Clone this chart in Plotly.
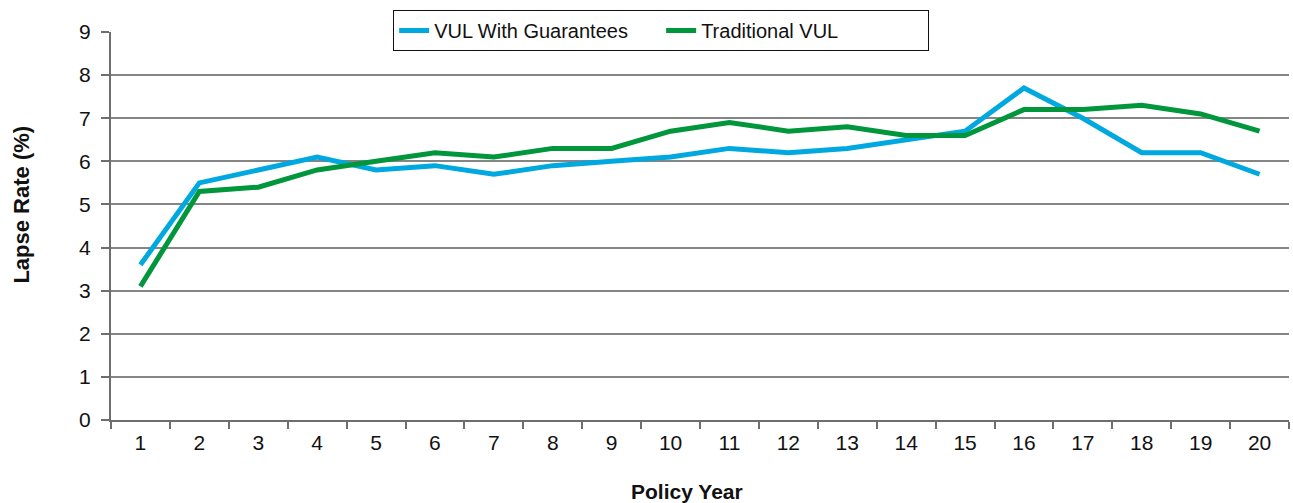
import plotly.graph_objects as go

policy_years = [str(i) for i in range(1, 21)]
vul_with_guarantees = [3.6, 5.5, 5.8, 6.1, 5.8, 5.9, 5.7, 5.9, 6.0, 6.1,
                       6.3, 6.2, 6.3, 6.5, 6.7, 7.7, 7.0, 6.2, 6.2, 5.7]
traditional_vul = [3.1, 5.3, 5.4, 5.8, 6.0, 6.2, 6.1, 6.3, 6.3, 6.7,
                   6.9, 6.7, 6.8, 6.6, 6.6, 7.2, 7.2, 7.3, 7.1, 6.7]
y_ticks = list(range(0, 10))

FONT = "Liberation Sans, Arial, sans-serif"
AXIS_GREY = "#6e6e6e"
TEXT = "#111111"

fig = go.Figure()
fig.add_trace(go.Scatter(x=policy_years, y=vul_with_guarantees, mode="lines",
                         name="VUL With Guarantees",
                         line=dict(color="#00A8E0", width=5)))
fig.add_trace(go.Scatter(x=policy_years, y=traditional_vul, mode="lines",
                         name="Traditional VUL",
                         line=dict(color="#00963C", width=5)))

fig.update_layout(
    width=1293, height=503,
    margin=dict(l=111, r=4, t=32, b=83),
    paper_bgcolor="white", plot_bgcolor="white",
    font=dict(family=FONT, size=21, color=TEXT),
    showlegend=True,
    legend=dict(orientation="h", x=0.467, xanchor="center", y=1.057, yanchor="top",
                bgcolor="white", bordercolor=TEXT, borderwidth=1,
                font=dict(family=FONT, size=20, color=TEXT),
                entrywidth=222, entrywidthmode="pixels", tracegroupgap=0),
    xaxis=dict(type="category", tickson="boundaries", ticks="outside", ticklen=7,
               tickcolor=AXIS_GREY, tickwidth=1.5, showline=True, linecolor=AXIS_GREY,
               linewidth=2, showgrid=False, range=[-0.5, 19.5],
               tickfont=dict(size=21), ticklabelstandoff=3),
    yaxis=dict(range=[0, 9], tickvals=y_ticks, ticks="outside", ticklen=8,
               tickcolor=AXIS_GREY, tickwidth=1.5, showline=True, linecolor=AXIS_GREY,
               linewidth=2, showgrid=True, gridcolor="#858585", gridwidth=1.5,
               zeroline=False, tickfont=dict(size=21), ticklabelstandoff=6),
    annotations=[
        dict(text="<b>Policy Year</b>", xref="paper", yref="paper",
             x=0.489, y=-0.183, xanchor="center", yanchor="middle",
             showarrow=False, font=dict(family=FONT, size=21, color=TEXT)),
        dict(text="<b>Lapse Rate (%)</b>", xref="paper", yref="paper",
             x=-0.0756, y=0.555, xanchor="center", yanchor="middle", textangle=-90,
             showarrow=False, font=dict(family=FONT, size=22, color=TEXT)),
    ],
)

fig.write_html("out.html")
